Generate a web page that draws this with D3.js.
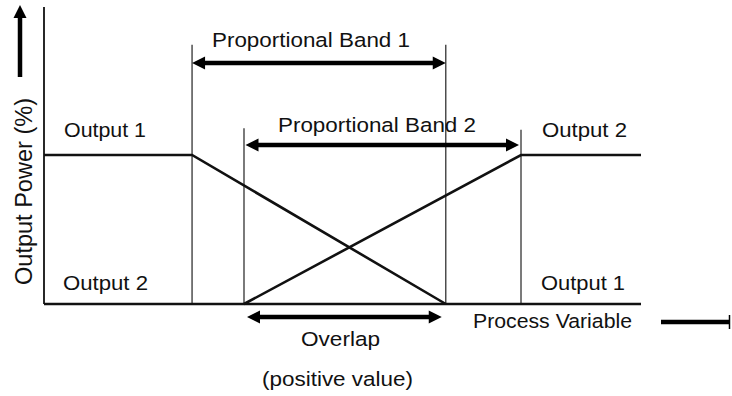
<!DOCTYPE html>
<html lang="en">
<head>
<meta charset="utf-8"/>
<style>
body { margin: 0; background: #fff; }
text { font-family: "Liberation Sans", Arial, Helvetica, sans-serif; fill: #111; }
</style>
</head>
<body>
<svg id="chart" width="732" height="396"></svg>
<script src="https://cdn.jsdelivr.net/npm/d3@7"></script>
<script>
// process variable (0-100) vs output power (%)
var band1 = [24.8, 67.3];
var band2 = [33.5, 79.9];
var output1 = [[0, 100], [24.8, 100], [67.3, 0]];
var output2 = [[33.5, 0], [79.9, 100], [100, 100]];
var bandNames = ["Proportional Band 1", "Proportional Band 2"];
var cornerLabels = ["Output 1", "Output 2", "Output 2", "Output 1"];

var svg = d3.select("#chart");
var x = d3.scaleLinear().domain([0, 100]).range([44, 641]);
var y = d3.scaleLinear().domain([0, 100]).range([304, 155]);
var line = d3.line().x(function(d) { return x(d[0]); }).y(function(d) { return y(d[1]); });

// helper: horizontal arrow with filled heads
function hArrow(x1, x2, yy, both) {
  var g = svg.append("g");
  var h = 13, w = 6.5;
  g.append("line").attr("x1", both ? x1 + h - 1 : x1).attr("x2", x2 - h + 1)
    .attr("y1", yy).attr("y2", yy).attr("stroke", "#000").attr("stroke-width", 4.5);
  g.append("path").attr("d", "M" + x2 + "," + yy + "L" + (x2 - h) + "," + (yy - w) + "L" + (x2 - h) + "," + (yy + w) + "Z");
  if (both) g.append("path").attr("d", "M" + x1 + "," + yy + "L" + (x1 + h) + "," + (yy - w) + "L" + (x1 + h) + "," + (yy + w) + "Z");
}

// vertical band edges
var edges = [[band1[0], 174], [band1[1], 174], [band2[0], 118], [band2[1], 117]];
svg.selectAll(".edge").data(edges).enter().append("line")
  .attr("class", "edge")
  .attr("x1", function(d) { return x(d[0]); }).attr("x2", function(d) { return x(d[0]); })
  .attr("y1", function(d) { return y(d[1]); }).attr("y2", y(0))
  .attr("stroke", "#333").attr("stroke-width", 1.3);

// axes
svg.append("line").attr("x1", x(0)).attr("x2", x(0)).attr("y1", 7).attr("y2", y(0))
  .attr("stroke", "#111").attr("stroke-width", 1.8);
svg.append("line").attr("x1", x(0)).attr("x2", x(100)).attr("y1", y(0)).attr("y2", y(0))
  .attr("stroke", "#111").attr("stroke-width", 2.6);

// output lines
[output1, output2].forEach(function(s) {
  svg.append("path").datum(s).attr("d", line).attr("fill", "none")
    .attr("stroke", "#111").attr("stroke-width", 2.6);
});

// band arrows
hArrow(x(band1[0]), x(band1[1]), 63, true);
hArrow(x(band2[0]) + 1.5, x(band2[1]) - 2, 145, true);
hArrow(x(band2[0]) + 3, x(band1[1]) - 4, 317, true);

// y arrow
svg.append("line").attr("x1", 20).attr("x2", 20).attr("y1", 77).attr("y2", 16)
  .attr("stroke", "#000").attr("stroke-width", 4.5);
svg.append("path").attr("d", "M20,5L13.5,18L26.5,18Z");

// x arrow with end bar
svg.append("line").attr("x1", 661).attr("x2", 729).attr("y1", 322).attr("y2", 322)
  .attr("stroke", "#000").attr("stroke-width", 4.5);
svg.append("line").attr("x1", 729.5).attr("x2", 729.5).attr("y1", 315).attr("y2", 329)
  .attr("stroke", "#000").attr("stroke-width", 1.5);

// labels
var texts = [
  { t: bandNames[0], x: 212, y: 47, w: 198 },
  { t: bandNames[1], x: 278, y: 132, w: 198 },
  { t: cornerLabels[0], x: 64, y: 137, w: 82 },
  { t: cornerLabels[1], x: 63, y: 290, w: 85 },
  { t: cornerLabels[2], x: 542, y: 137, w: 85 },
  { t: cornerLabels[3], x: 541, y: 290, w: 84 },
  { t: "Process Variable", x: 473, y: 328, w: 159 },
  { t: "Overlap", x: 301, y: 346, w: 79 },
  { t: "(positive value)", x: 262, y: 386, w: 151 }
];
svg.selectAll(".lbl").data(texts).enter().append("text")
  .attr("class", "lbl")
  .attr("x", function(d) { return d.x; }).attr("y", function(d) { return d.y; })
  .attr("textLength", function(d) { return d.w; })
  .attr("lengthAdjust", "spacingAndGlyphs")
  .style("font-size", "20.5px")
  .text(function(d) { return d.t; });

svg.append("text")
  .attr("transform", "translate(32,191.5) rotate(-90)")
  .attr("text-anchor", "middle")
  .attr("textLength", 187).attr("lengthAdjust", "spacingAndGlyphs")
  .style("font-size", "23px")
  .text("Output Power (%)");
</script>
</body>
</html>
